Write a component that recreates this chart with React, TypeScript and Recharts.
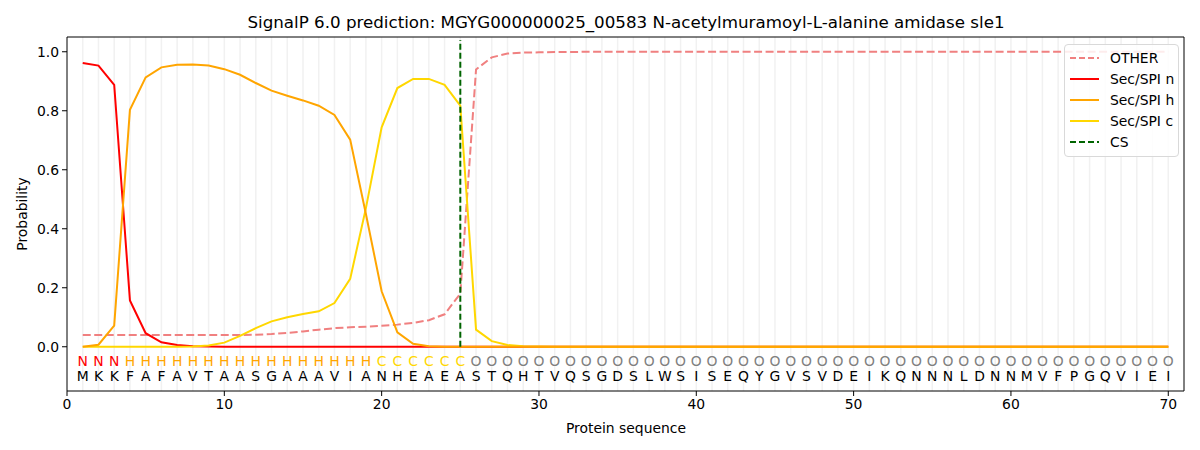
import React from 'react';
import {
  LineChart,
  Line,
  XAxis,
  YAxis,
  ReferenceLine,
  ReferenceDot,
} from 'recharts';

const residues = [
  'M','K','K','F','A','F','A','V','T','A','A','S','G','A','A','A','V','I','A','N',
  'H','E','A','E','A','S','T','Q','H','T','V','Q','S','G','D','S','L','W','S','I',
  'S','E','Q','Y','G','V','S','V','D','E','I','K','Q','N','N','N','L','D','N','N',
  'M','V','F','P','G','Q','V','I','E','I',
];

const regionLabels = [
  'N','N','N','H','H','H','H','H','H','H','H','H','H','H','H','H','H','H','H','C',
  'C','C','C','C','C','O','O','O','O','O','O','O','O','O','O','O','O','O','O','O',
  'O','O','O','O','O','O','O','O','O','O','O','O','O','O','O','O','O','O','O','O',
  'O','O','O','O','O','O','O','O','O','O',
];

const otherValues = [
  0.04, 0.04, 0.04, 0.04, 0.04, 0.04, 0.04, 0.04, 0.04, 0.04,
  0.04, 0.041, 0.043, 0.047, 0.052, 0.058, 0.063, 0.066, 0.068, 0.071,
  0.075, 0.081, 0.09, 0.11, 0.18, 0.94, 0.981, 0.994, 0.997, 0.998,
  0.999, 0.999, 1, 1, 1, 1, 1, 1, 1, 1,
  1, 1, 1, 1, 1, 1, 1, 1, 1, 1,
  1, 1, 1, 1, 1, 1, 1, 1, 1, 1,
  1, 1, 1, 1, 1, 1, 1, 1, 1, 1,
];

const secNValues = [
  0.962, 0.953, 0.888, 0.157, 0.046, 0.015, 0.006, 0.002, 0.001, 0,
  0, 0, 0, 0, 0, 0, 0, 0, 0, 0,
  0, 0, 0, 0, 0, 0, 0, 0, 0, 0,
  0, 0, 0, 0, 0, 0, 0, 0, 0, 0,
  0, 0, 0, 0, 0, 0, 0, 0, 0, 0,
  0, 0, 0, 0, 0, 0, 0, 0, 0, 0,
  0, 0, 0, 0, 0, 0, 0, 0, 0, 0,
];

const secHValues = [
  0, 0.007, 0.072, 0.803, 0.913, 0.947, 0.956, 0.957, 0.953, 0.941,
  0.922, 0.894, 0.868, 0.851, 0.835, 0.817, 0.786, 0.702, 0.45, 0.188,
  0.049, 0.01, 0.002, 0, 0, 0, 0, 0, 0, 0,
  0, 0, 0, 0, 0, 0, 0, 0, 0, 0,
  0, 0, 0, 0, 0, 0, 0, 0, 0, 0,
  0, 0, 0, 0, 0, 0, 0, 0, 0, 0,
  0, 0, 0, 0, 0, 0, 0, 0, 0, 0,
];

const secCValues = [
  0, 0, 0, 0, 0, 0, 0, 0.001, 0.004, 0.014,
  0.037, 0.063, 0.086, 0.1, 0.111, 0.12, 0.148, 0.23, 0.47, 0.744,
  0.877, 0.908, 0.908, 0.888, 0.817, 0.058, 0.019, 0.006, 0.002, 0.001,
  0, 0, 0, 0, 0, 0, 0, 0, 0, 0,
  0, 0, 0, 0, 0, 0, 0, 0, 0, 0,
  0, 0, 0, 0, 0, 0, 0, 0, 0, 0,
  0, 0, 0, 0, 0, 0, 0, 0, 0, 0,
];

const cleavageSite = 25;
const xDomain = [0, 71];
const yDomain = [-0.15, 1.05];
const xTicks = [0, 10, 20, 30, 40, 50, 60, 70];
const yTicks = [0, 0.2, 0.4, 0.6, 0.8, 1.0];

const positions = residues.map((_, i) => i + 1);

const data = positions.map((pos, i) => ({
  pos,
  other: otherValues[i],
  secN: secNValues[i],
  secH: secHValues[i],
  secC: secCValues[i],
}));

const labelColors: Record<string, string> = {
  N: '#ff0000',
  H: '#ffa500',
  C: '#ffd700',
  O: '#808080',
};

const FONT = '"DejaVu Sans", sans-serif';

const legendItems = [
  { name: 'OTHER', color: '#f08080', dash: '6 3' },
  { name: 'Sec/SPI n', color: '#ff0000', dash: '' },
  { name: 'Sec/SPI h', color: '#ffa500', dash: '' },
  { name: 'Sec/SPI c', color: '#ffd700', dash: '' },
  { name: 'CS', color: '#006400', dash: '6 3' },
];

const LegendBox = () => (
  <div
    style={{
      position: 'absolute',
      left: 1064,
      top: 44,
      width: 115,
      boxSizing: 'border-box',
      border: '1px solid #d9d9d9',
      borderRadius: 4,
      background: 'rgba(255,255,255,0.85)',
      padding: '3px 2px 4px 5px',
      fontFamily: FONT,
      fontSize: 13.9,
      color: '#000',
      whiteSpace: 'nowrap',
    }}
  >
    {legendItems.map((it) => (
      <div key={it.name} style={{ display: 'flex', alignItems: 'center', height: 20.8 }}>
        <svg width={30} height={10} style={{ marginRight: 10, flex: 'none' }}>
          <line
            x1={0}
            y1={5}
            x2={29}
            y2={5}
            stroke={it.color}
            strokeWidth={2}
            strokeDasharray={it.dash || undefined}
          />
        </svg>
        <span>{it.name}</span>
      </div>
    ))}
  </div>
);

export default function App() {
  return (
    <div style={{ position: 'absolute', left: 0, top: 0, width: 1200, height: 450, background: '#fff' }}>
      <div
        style={{
          position: 'absolute',
          left: 0,
          width: 1252,
          top: 12,
          textAlign: 'center',
          fontFamily: FONT,
          fontSize: 16.7,
          color: '#000',
          lineHeight: '20px',
          whiteSpace: 'nowrap',
        }}
      >
        SignalP 6.0 prediction: MGYG000000025_00583 N-acetylmuramoyl-L-alanine amidase sle1
      </div>
      <div
        style={{
          position: 'absolute',
          left: 0,
          width: 1252,
          top: 419,
          textAlign: 'center',
          fontFamily: FONT,
          fontSize: 13.9,
          color: '#000',
          lineHeight: '18px',
        }}
      >
        Protein sequence
      </div>
      <div
        style={{
          position: 'absolute',
          left: 22,
          top: 214,
          transform: 'translate(-50%, -50%) rotate(-90deg)',
          fontFamily: FONT,
          fontSize: 13.9,
          color: '#000',
          whiteSpace: 'nowrap',
        }}
      >
        Probability
      </div>
      <div style={{ position: 'absolute', left: 0, top: 0 }}>
        <LineChart
          width={1200}
          height={450}
          data={data}
          margin={{ top: 37, right: 16, bottom: 29, left: 7 }}
        >
          <XAxis
            dataKey="pos"
            type="number"
            domain={xDomain}
            ticks={xTicks}
            allowDataOverflow
            height={30}
            tickSize={5}
            tickMargin={3}
            stroke="#000"
            tick={{ fill: '#000', fontSize: 13.9, fontFamily: FONT }}
          />
          <YAxis
            type="number"
            domain={yDomain}
            ticks={yTicks}
            allowDataOverflow
            width={60}
            tickSize={5}
            tickMargin={3}
            stroke="#000"
            tickFormatter={(v: number) => v.toFixed(1)}
            tick={{ fill: '#000', fontSize: 13.9, fontFamily: FONT }}
          />
          {positions.map((pos) => (
            <ReferenceLine key={'g' + pos} x={pos} stroke="#f1f1f1" strokeWidth={1.5} />
          ))}
          <ReferenceLine y={yDomain[1]} stroke="#000" strokeWidth={1} />
          <ReferenceLine x={xDomain[1]} stroke="#000" strokeWidth={1} />
          <Line
            dataKey="other"
            stroke="#f08080"
            strokeWidth={2}
            strokeDasharray="8 3.5"
            dot={false}
            type="linear"
            isAnimationActive={false}
          />
          <Line dataKey="secN" stroke="#ff0000" strokeWidth={2} dot={false} type="linear" isAnimationActive={false} />
          <Line dataKey="secC" stroke="#ffd700" strokeWidth={2} dot={false} type="linear" isAnimationActive={false} />
          <Line dataKey="secH" stroke="#ffa500" strokeWidth={2} dot={false} type="linear" isAnimationActive={false} />
          <ReferenceLine
            segment={[
              { x: cleavageSite, y: 0 },
              { x: cleavageSite, y: 1.04 },
            ]}
            stroke="#006400"
            strokeWidth={2}
            strokeDasharray="6 3"
          />
          {positions.map((pos, i) => (
            <ReferenceDot
              key={'r' + pos}
              x={pos}
              y={-0.047}
              r={0}
              shape={(p: any) => (
                <text
                  x={p.cx}
                  y={p.cy}
                  textAnchor="middle"
                  dominantBaseline="central"
                  fontFamily={FONT}
                  fontSize={13.9}
                  fill={labelColors[regionLabels[i]]}
                >
                  {regionLabels[i]}
                </text>
              )}
            />
          ))}
          {positions.map((pos, i) => (
            <ReferenceDot
              key={'a' + pos}
              x={pos}
              y={-0.1}
              r={0}
              shape={(p: any) => (
                <text
                  x={p.cx}
                  y={p.cy}
                  textAnchor="middle"
                  dominantBaseline="central"
                  fontFamily={FONT}
                  fontSize={13.9}
                  fill="#000"
                >
                  {residues[i]}
                </text>
              )}
            />
          ))}
        </LineChart>
      </div>
      <LegendBox />
    </div>
  );
}
